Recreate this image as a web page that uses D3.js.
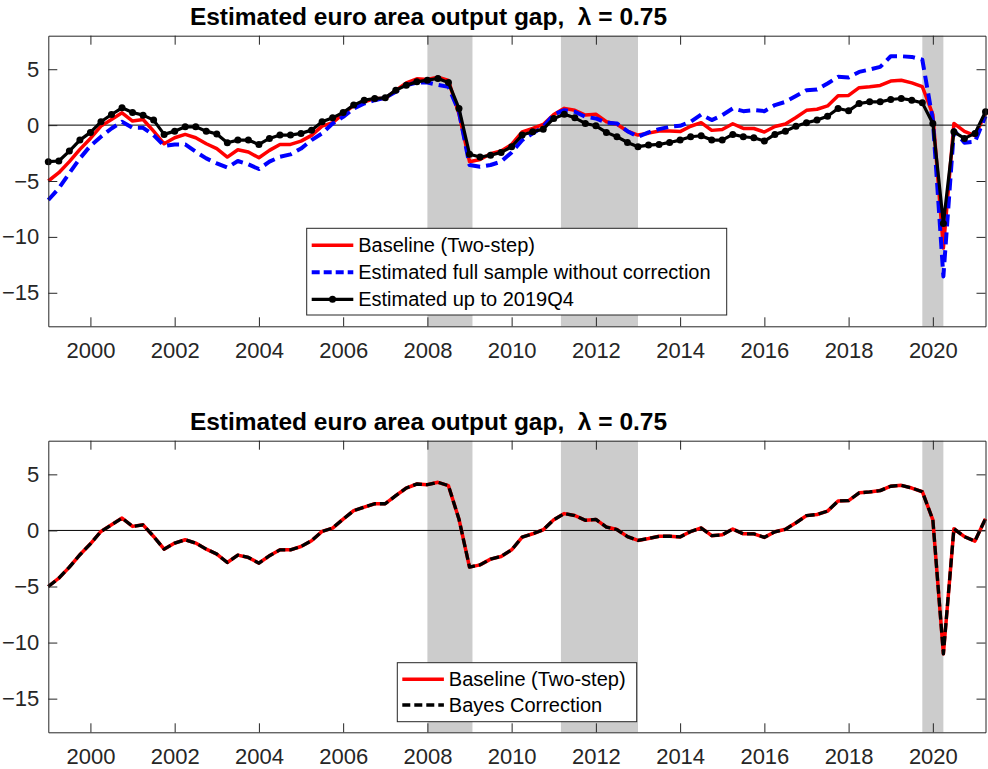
<!DOCTYPE html>
<html>
<head>
<meta charset="utf-8">
<script src="https://cdn.jsdelivr.net/npm/d3@7"></script>
<style>
  body { margin: 0; background: #fff; }
  svg { display: block; font-family: "Liberation Sans", Arial, Helvetica, sans-serif; }
</style>
</head>
<body>
<svg id="chart"></svg>
<script>

const WIDTH = 988;
const HEIGHT = 769;

// quarterly dates, 1999Q1 .. 2021Q2
const FIRST_YEAR = 1999;
const N_QUARTERS = 90;
const QUARTERS = d3.range(N_QUARTERS).map(i => FIRST_YEAR + i / 4);

const YEAR_TICKS = [2000, 2002, 2004, 2006, 2008, 2010, 2012, 2014, 2016, 2018, 2020];
const GAP_TICKS = [-15, -10, -5, 0, 5];

// recession bands (start, end) in decimal years
const RECESSIONS = [[2008.0, 2009.07], [2011.17, 2013.0], [2019.75, 2020.25]];

// Baseline (Two-step)
const BASELINE = [
  -5.0, -4.26, -3.27, -2.17,
  -1.19, -0.09, 0.5, 1.1,
  0.36, 0.5, -0.54, -1.67,
  -1.13, -0.83, -1.13, -1.67,
  -2.11, -2.86, -2.2, -2.41,
  -2.92, -2.26, -1.73, -1.73,
  -1.43, -0.92, -0.09, 0.21,
  1.01, 1.76, 2.08, 2.38,
  2.38, 3.1, 3.78, 4.14,
  4.08, 4.29, 3.99, 1.0,
  -3.27, -3.07, -2.56, -2.32,
  -1.73, -0.6, -0.3, 0.06,
  0.95, 1.5, 1.33, 0.9,
  0.98, 0.3, 0.08, -0.55,
  -0.89, -0.72, -0.52, -0.52,
  -0.58, -0.1, 0.22, -0.47,
  -0.39, 0.12, -0.3, -0.3,
  -0.62, -0.12, 0.1, 0.68,
  1.32, 1.42, 1.72, 2.62,
  2.66, 3.35, 3.43, 3.55,
  3.94, 4.02, 3.78, 3.45,
  0.95, -11.0, 0.15, -0.56,
  -0.95, 1.05
];

// Estimated full sample without correction
const FULL_SAMPLE = [
  -6.7, -5.65, -4.3, -2.98,
  -1.85, -1.04, -0.3, 0.3,
  -0.24, -0.24, -0.9, -1.85,
  -1.73, -1.73, -2.38, -2.98,
  -3.42, -3.8, -3.21, -3.51,
  -3.93, -3.27, -2.83, -2.62,
  -2.1, -1.34, -0.74, 0.15,
  0.74, 1.49, 1.93, 2.23,
  2.44, 2.98, 3.57, 3.81,
  3.81, 3.6, 3.42, 1.19,
  -3.57, -3.72, -3.57, -3.27,
  -2.44, -1.34, -0.74, -0.15,
  0.95, 1.34, 1.19, 0.74,
  0.6, 0.21, 0.15, -0.54,
  -1.04, -0.65, -0.36, -0.15,
  -0.06, 0.3, 0.95, 0.45,
  0.89, 1.49, 1.25, 1.34,
  1.25, 1.79, 2.08, 2.6,
  3.13, 3.18, 3.72, 4.32,
  4.26, 4.76, 4.97, 5.21,
  6.16, 6.16, 6.1, 5.86,
  0.45, -13.54, -0.45, -1.58,
  -1.49, 0.8
];

// Estimated up to 2019Q4
const UP_TO_2019 = [
  -3.27, -3.21, -2.32, -1.34,
  -0.65, 0.3, 0.95, 1.55,
  1.13, 0.89, 0.45, -0.83,
  -0.54, -0.15, -0.15, -0.54,
  -0.8, -1.58, -1.34, -1.34,
  -1.73, -1.19, -0.89, -0.89,
  -0.74, -0.45, 0.3, 0.65,
  1.13, 1.79, 2.23, 2.38,
  2.44, 3.13, 3.57, 3.87,
  4.02, 4.17, 3.81, 1.49,
  -2.6, -2.85, -2.7, -2.44,
  -1.93, -0.89, -0.6, -0.36,
  0.6, 0.98, 0.65, 0.15,
  -0.06, -0.65, -1.04, -1.55,
  -1.93, -1.79, -1.73, -1.55,
  -1.34, -1.04, -0.95, -1.34,
  -1.34, -0.83, -1.04, -1.13,
  -1.43, -0.83, -0.54, -0.1,
  0.21, 0.45, 0.8, 1.49,
  1.28, 1.93, 2.08, 2.08,
  2.29, 2.38, 2.23, 1.99,
  0.15, -8.8, -0.6, -1.19,
  -0.74, 1.19
];

// Bayes Correction (coincides with the baseline)
const BAYES_CORRECTION = BASELINE.slice();

const TITLE = "Estimated euro area output gap,  \u03bb = 0.75";

const AXIS_COLOR = "#262626";
const LEFT = 48.3, RIGHT = 985.5;

const svg = d3.select('#chart')
              .attr('width', WIDTH)
              .attr('height', HEIGHT);

const x = d3.scaleLinear().domain([1999, 2021.25]).range([LEFT, RIGHT]);

drawPanel({
  top: 35.7,
  bottom: 326.3,
  titleY: 25,
  series: [
    { name: "Baseline (Two-step)", values: BASELINE, color: "#ff0000", width: 3.5 },
    { name: "Estimated full sample without correction", values: FULL_SAMPLE, color: "#0000ff", width: 4, dash: "12,6" },
    { name: "Estimated up to 2019Q4", values: UP_TO_2019, color: "#000000", width: 3.2, markers: true }
  ],
  legend: { x: 306.7, y: 228.3, w: 420, h: 86.7, rowStart: 17, rowStep: 27 }
});

drawPanel({
  top: 440.7,
  bottom: 732.3,
  titleY: 430,
  series: [
    { name: "Baseline (Two-step)", values: BASELINE, color: "#ff0000", width: 3.5 },
    { name: "Bayes Correction", values: BAYES_CORRECTION, color: "#000000", width: 3.3, dash: "9,4" }
  ],
  legend: { x: 397.3, y: 662.7, w: 239.4, h: 59, rowStart: 16.6, rowStep: 25.7 }
});

function drawPanel(p) {
  const y = d3.scaleLinear().domain([-18, 8]).range([p.bottom, p.top]);
  const g = svg.append('g');

  // recession shading
  g.selectAll('rect.rec').data(RECESSIONS).enter().append('rect')
   .attr('class', 'rec')
   .attr('x', d => x(d[0]))
   .attr('width', d => x(d[1]) - x(d[0]))
   .attr('y', p.top)
   .attr('height', p.bottom - p.top)
   .attr('fill', '#cccccc');

  // zero line
  g.append('line')
   .attr('x1', LEFT).attr('x2', RIGHT)
   .attr('y1', y(0)).attr('y2', y(0))
   .attr('stroke', '#000').attr('stroke-width', 1);

  const line = d3.line()
                 .x((d, i) => x(QUARTERS[i]))
                 .y(d => y(d));

  p.series.forEach(s => {
    g.append('path')
     .attr('d', line(s.values))
     .attr('fill', 'none')
     .attr('stroke', s.color)
     .attr('stroke-width', s.width)
     .attr('stroke-linejoin', 'round')
     .attr('stroke-dasharray', s.dash || null);

    if (s.markers) {
      g.selectAll(null).data(s.values).enter().append('circle')
       .attr('cx', (d, i) => x(QUARTERS[i]))
       .attr('cy', d => y(d))
       .attr('r', 3.5)
       .attr('fill', s.color);
    }
  });

  // axes (MATLAB style: ticks inside, box all round)
  const bottomAxis = d3.axisBottom(x).tickValues(YEAR_TICKS).tickFormat(d3.format('d'))
                       .tickSize(-9).tickSizeOuter(0).tickPadding(16);
  const topAxis = d3.axisTop(x).tickValues(YEAR_TICKS).tickFormat('')
                    .tickSize(-9).tickSizeOuter(0);
  const leftAxis = d3.axisLeft(y).tickValues(GAP_TICKS).tickFormat(d3.format('d'))
                     .tickSize(-9).tickSizeOuter(0).tickPadding(9);
  const rightAxis = d3.axisRight(y).tickValues(GAP_TICKS).tickFormat('')
                      .tickSize(-9).tickSizeOuter(0);

  const axes = [
    g.append('g').attr('transform', `translate(0,${p.bottom})`).call(bottomAxis),
    g.append('g').attr('transform', `translate(0,${p.top})`).call(topAxis),
    g.append('g').attr('transform', `translate(${LEFT},0)`).call(leftAxis),
    g.append('g').attr('transform', `translate(${RIGHT},0)`).call(rightAxis)
  ];
  axes.forEach(a => {
    a.select('.domain').attr('stroke', AXIS_COLOR);
    a.selectAll('.tick line').attr('stroke', AXIS_COLOR);
    a.selectAll('.tick text')
     .attr('fill', AXIS_COLOR)
     .style('font-size', '22px')
     .style('font-family', '"Liberation Sans", Arial, sans-serif');
  });

  // title
  g.append('text')
   .attr('x', 428.5)
   .attr('y', p.titleY)
   .attr('text-anchor', 'middle')
   .style('font-size', '24.5px')
   .style('font-weight', 'bold')
   .style('white-space', 'pre')
   .attr('fill', '#000')
   .text(TITLE);

  // legend
  const L = p.legend;
  const lg = g.append('g').attr('transform', `translate(${L.x},${L.y})`);
  lg.append('rect')
    .attr('width', L.w).attr('height', L.h)
    .attr('fill', '#fff')
    .attr('stroke', AXIS_COLOR).attr('stroke-width', 1);

  p.series.forEach((s, i) => {
    const cy = L.rowStart + i * L.rowStep;
    lg.append('line')
      .attr('x1', 5).attr('x2', 46.6)
      .attr('y1', cy).attr('y2', cy)
      .attr('stroke', s.color)
      .attr('stroke-width', s.width)
      .attr('stroke-dasharray', s.dash ? '8,4' : null);
    if (s.markers) {
      lg.append('circle').attr('cx', 25.8).attr('cy', cy).attr('r', 3.5).attr('fill', s.color);
    }
    lg.append('text')
      .attr('x', 51.5)
      .attr('y', cy)
      .attr('dy', '0.36em')
      .style('font-size', '20px')
      .attr('fill', '#000')
      .text(s.name);
  });
}
</script>
</body>
</html>
